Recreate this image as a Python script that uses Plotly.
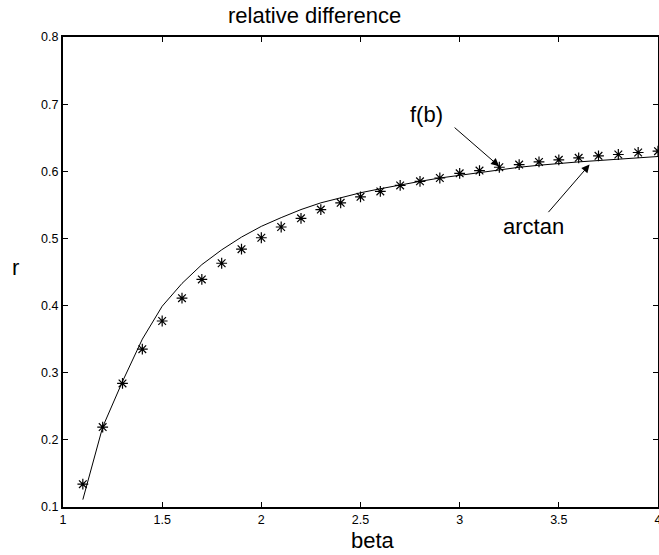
import plotly.graph_objects as go

beta = [1.1, 1.2, 1.3, 1.4, 1.5, 1.6, 1.7, 1.8, 1.9, 2.0,
        2.1, 2.2, 2.3, 2.4, 2.5, 2.6, 2.7, 2.8, 2.9, 3.0,
        3.1, 3.2, 3.3, 3.4, 3.5, 3.6, 3.7, 3.8, 3.9, 4.0]

f_b = [0.134, 0.219, 0.284, 0.335, 0.377, 0.411, 0.439, 0.463, 0.484, 0.501,
       0.517, 0.530, 0.543, 0.553, 0.562, 0.570, 0.579, 0.585, 0.590, 0.597,
       0.601, 0.606, 0.610, 0.614, 0.617, 0.620, 0.623, 0.625, 0.628, 0.630]

arctan = [0.111, 0.219, 0.287, 0.350, 0.399, 0.433, 0.461, 0.483, 0.502, 0.518,
          0.531, 0.543, 0.553, 0.561, 0.568, 0.574, 0.580, 0.585, 0.590, 0.594,
          0.599, 0.603, 0.606, 0.609, 0.612, 0.614, 0.616, 0.618, 0.620, 0.622]

x_ticks = [1, 1.5, 2, 2.5, 3, 3.5, 4]
x_ticklabels = ["1", "1.5", "2", "2.5", "3", "3.5", "4"]
y_ticks = [0.1, 0.2, 0.3, 0.4, 0.5, 0.6, 0.7, 0.8]
y_ticklabels = ["0.1", "0.2", "0.3", "0.4", "0.5", "0.6", "0.7", "0.8"]

title_text = "relative difference"
x_label = "beta"
y_label = "r"

FONT = "Liberation Sans, Arial, sans-serif"

fig = go.Figure()
fig.add_trace(go.Scatter(x=beta, y=arctan, mode="lines",
                         line=dict(color="black", width=1), showlegend=False))
fig.add_trace(go.Scatter(x=beta, y=f_b, mode="markers",
                         marker=dict(symbol="asterisk-open", size=9,
                                     color="black", line=dict(color="black", width=1.2)),
                         showlegend=False))

axis_common = dict(showgrid=False, zeroline=False, showline=True, linecolor="black",
                   linewidth=2, mirror="ticks", ticks="inside", ticklen=5, tickwidth=1,
                   tickcolor="black", automargin=False, ticklabeloverflow="allow",
                   tickfont=dict(family=FONT, size=12.5, color="black"))

fig.update_xaxes(range=[1, 4], tickvals=x_ticks, ticktext=x_ticklabels, **axis_common)
fig.update_yaxes(range=[0.1, 0.8], tickvals=y_ticks, ticktext=y_ticklabels, **axis_common)

annotations = [
    dict(text=title_text, xref="paper", yref="paper", x=0.4235, y=1.0447,
         xanchor="center", yanchor="middle", showarrow=False,
         font=dict(family=FONT, size=22, color="black")),
    dict(text=x_label, xref="paper", yref="paper", x=0.521, y=-0.0723,
         xanchor="center", yanchor="middle", showarrow=False,
         font=dict(family=FONT, size=22, color="black")),
    dict(text=y_label, xref="paper", yref="paper", x=-0.0798, y=0.5106,
         xanchor="center", yanchor="middle", showarrow=False,
         font=dict(family=FONT, size=22, color="black")),
    dict(text="f(b)", xref="x", yref="y", x=2.834, y=0.6846,
         xanchor="center", yanchor="middle", showarrow=False,
         font=dict(family=FONT, size=22, color="black")),
    dict(text="arctan", xref="x", yref="y", x=3.370, y=0.5175,
         xanchor="center", yanchor="middle", showarrow=False,
         font=dict(family=FONT, size=22, color="black")),
    dict(text="", xref="x", yref="y", x=3.199, y=0.6075,
         axref="x", ayref="y", ax=2.967, ay=0.667, showarrow=True,
         arrowhead=2, arrowsize=1.6, arrowwidth=1, arrowcolor="black", standoff=0),
    dict(text="", xref="x", yref="y", x=3.655, y=0.610,
         axref="x", ayref="y", ax=3.441, ay=0.5369, showarrow=True,
         arrowhead=2, arrowsize=1.6, arrowwidth=1, arrowcolor="black", standoff=0),
]

fig.update_layout(width=659, height=555, plot_bgcolor="white", paper_bgcolor="white",
                  margin=dict(l=63, r=1, t=37, b=48), annotations=annotations,
                  font=dict(family=FONT, color="black"))

fig.write_html("out.html", config={"displayModeBar": False},
               post_script="document.body.style.margin='0';document.body.style.overflow='hidden';")
